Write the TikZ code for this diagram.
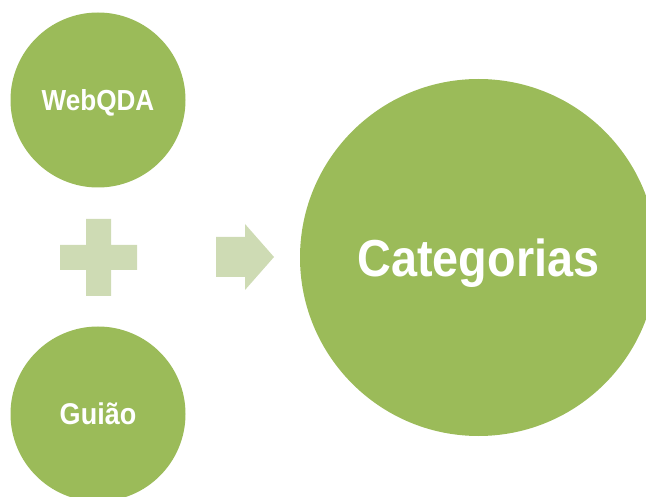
\documentclass[tikz,border=0pt]{standalone}
\usepackage{fontspec}
\newfontfamily\lblfont{Liberation Sans}[FakeStretch=0.9]
\definecolor{olive}{HTML}{9BBB59}
\definecolor{lightolive}{HTML}{CEDBB4}
\begin{document}
\begin{tikzpicture}[x=1pt,y=-1pt,
  bubble/.style={circle, fill=olive, draw=none, inner sep=0pt, text=white,
    font=\lblfont\bfseries, text depth=0pt},
  sign/.style={fill=lightolive, draw=none}]
\useasboundingbox (0,0) rectangle (646,497);
\node[bubble, minimum size=175pt, text height=20.8pt, font=\lblfont\bfseries\fontsize{29}{30}\selectfont] (web) at (98,100) {WebQDA};
\node[bubble, minimum size=175pt, text height=21.5pt, font=\lblfont\bfseries\fontsize{30}{31}\selectfont] (guiao) at (98,414) {Guião};
\node[bubble, minimum size=357pt, text height=37.2pt, font=\lblfont\bfseries\fontsize{52}{54}\selectfont] (cat) at (478.5,257.5) {Categorias};
% plus sign
\fill[sign] (86,219) -- (111,219) -- (111,245) -- (137,245) -- (137,270) -- (111,270)
  -- (111,296) -- (86,296) -- (86,270) -- (60,270) -- (60,245) -- (86,245) -- cycle;
% arrow
\fill[sign] (216,237) -- (245,237) -- (245,224) -- (274,257) -- (245,290) -- (245,277)
  -- (216,277) -- cycle;
\end{tikzpicture}
\end{document}
